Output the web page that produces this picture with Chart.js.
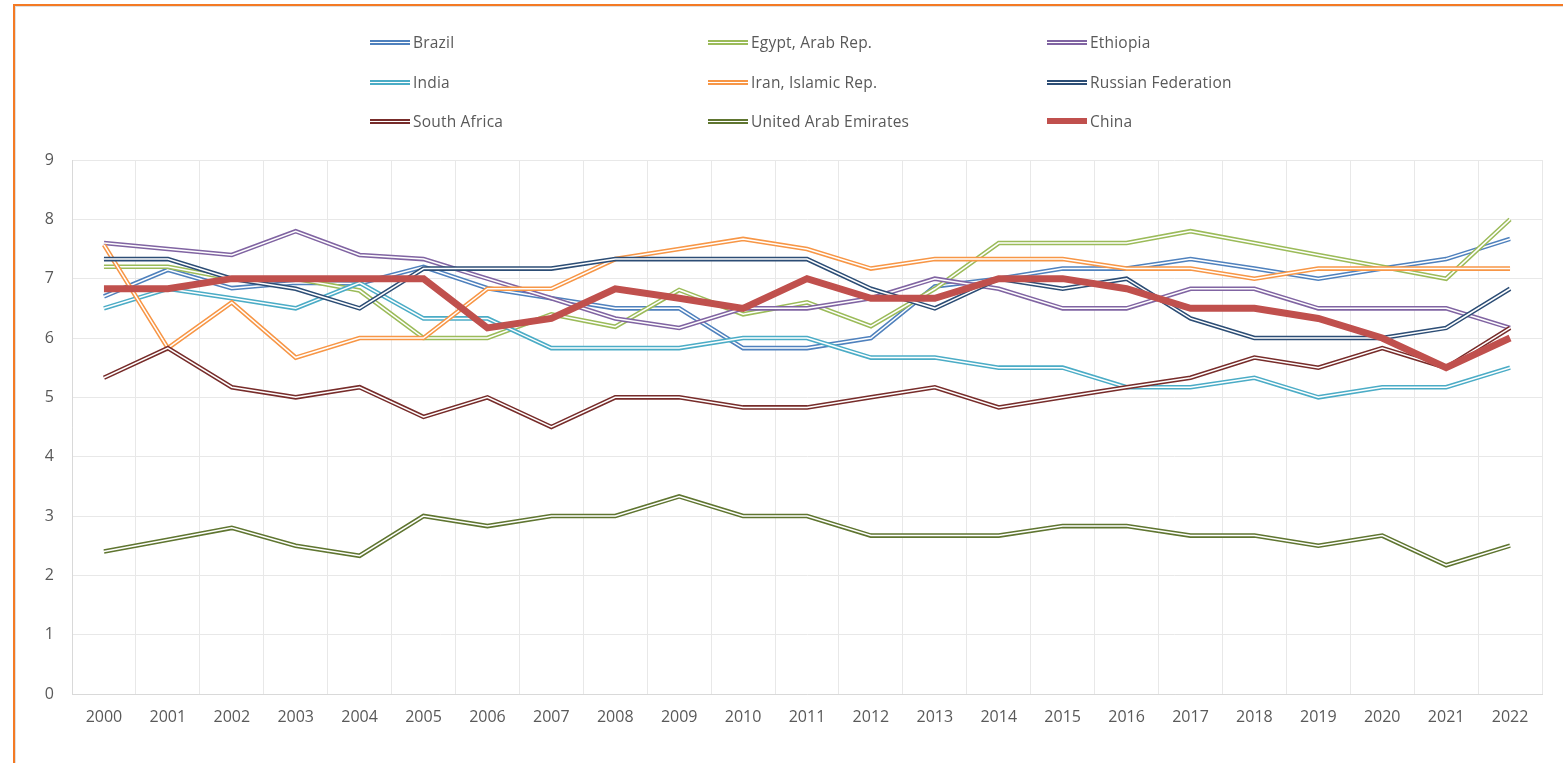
<!DOCTYPE html>
<html>
<head>
<meta charset="utf-8">
<script src="https://cdn.jsdelivr.net/npm/chart.js@4/dist/chart.umd.min.js"></script>
<style>
  html, body { margin: 0; padding: 0; background: #fff; }
  #wrap { position: relative; width: 1563px; height: 763px; overflow: hidden; }
  #frame { position: absolute; left: 13px; top: 4px; width: 1600px; height: 800px;
           border-top: 2px solid #f47a24; border-left: 2px solid #f47a24;
           box-shadow: inset 1px 1px 0 #e0e0e0; pointer-events: none; }
  #legend { position: absolute; left: 0; top: 0; width: 1563px; height: 140px;
            font-family: "Open Sans", sans-serif; font-size: 15.5px; letter-spacing: 0.2px; color: #595959; }
  .item { position: absolute; display: flex; align-items: center; height: 20px; }
  .swatch { width: 40px; box-sizing: border-box; margin-right: 3px; }
  .dbl { height: 5px; border-top: 2px solid; border-bottom: 2px solid; background: #fff; }
  .solid { height: 6px; }
</style>
</head>
<body>
<div id="wrap">
  <canvas id="myChart" width="1563" height="763"></canvas>
  <div id="legend"></div>
  <div id="frame"></div>
</div>
<script>
const years = ['2000','2001','2002','2003','2004','2005','2006','2007','2008','2009','2010','2011',
  '2012','2013','2014','2015','2016','2017','2018','2019','2020','2021','2022'];

const brazil = [6.7, 7.15, 6.84, 6.93, 6.92, 7.2, 6.84, 6.67, 6.5, 6.5, 5.83, 5.83, 6.0, 6.87, 7.0, 7.17, 7.17, 7.33, 7.17, 7.0, 7.17, 7.33, 7.67];
const egypt = [7.2, 7.2, 7.0, 7.0, 6.8, 6.0, 6.0, 6.4, 6.19, 6.81, 6.4, 6.6, 6.2, 6.83, 7.6, 7.6, 7.6, 7.8, 7.6, 7.4, 7.2, 7.0, 8.0];
const ethiopia = [7.6, 7.5, 7.4, 7.8, 7.4, 7.33, 7.0, 6.67, 6.33, 6.17, 6.5, 6.5, 6.67, 7.0, 6.83, 6.5, 6.5, 6.83, 6.83, 6.5, 6.5, 6.5, 6.17];
const india = [6.5, 6.83, 6.67, 6.5, 6.93, 6.33, 6.33, 5.83, 5.83, 5.83, 6.0, 6.0, 5.67, 5.67, 5.5, 5.5, 5.17, 5.17, 5.33, 5.0, 5.17, 5.17, 5.5];
const iran = [7.57, 5.83, 6.6, 5.67, 6.0, 6.0, 6.83, 6.83, 7.33, 7.5, 7.67, 7.5, 7.17, 7.33, 7.33, 7.33, 7.17, 7.17, 7.0, 7.17, 7.17, 7.17, 7.17];
const russia = [7.33, 7.33, 7.0, 6.83, 6.5, 7.17, 7.17, 7.17, 7.33, 7.33, 7.33, 7.33, 6.83, 6.5, 7.0, 6.83, 7.0, 6.33, 6.0, 6.0, 6.0, 6.17, 6.83];
const southAfrica = [5.33, 5.83, 5.17, 5.0, 5.17, 4.67, 5.0, 4.5, 5.0, 5.0, 4.83, 4.83, 5.0, 5.17, 4.83, 5.0, 5.17, 5.33, 5.67, 5.5, 5.83, 5.5, 6.17];
const uae = [2.4, 2.6, 2.8, 2.5, 2.33, 3.0, 2.83, 3.0, 3.0, 3.33, 3.0, 3.0, 2.67, 2.67, 2.67, 2.83, 2.83, 2.67, 2.67, 2.5, 2.67, 2.17, 2.5];
const china = [6.83, 6.83, 7.0, 7.0, 7.0, 7.0, 6.17, 6.33, 6.83, 6.67, 6.5, 7.0, 6.67, 6.67, 7.0, 7.0, 6.83, 6.5, 6.5, 6.33, 6.0, 5.5, 6.0];

const names = ['Brazil', 'Egypt, Arab Rep.', 'Ethiopia', 'India', 'Iran, Islamic Rep.', 'Russian Federation',
  'South Africa', 'United Arab Emirates', 'China'];
const values = [brazil, egypt, ethiopia, india, iran, russia, southAfrica, uae, china];
const colors = ['#4f81bd', '#9bbb59', '#8064a2', '#4bacc6', '#f79646', '#2c4d75', '#772c2a', '#5f7530', '#c0504d'];

// excel style "double" line: white stroke over the coloured one
const doubleLine = {
  id: 'doubleLine',
  afterDatasetDraw(chart, args) {
    const ds = chart.data.datasets[args.index];
    if (!ds.doubleLine) return;
    const pts = args.meta.data;
    const ctx = chart.ctx;
    ctx.save();
    ctx.beginPath();
    pts.forEach((p, i) => i ? ctx.lineTo(p.x, p.y) : ctx.moveTo(p.x, p.y));
    ctx.strokeStyle = '#ffffff';
    ctx.lineWidth = 1.5;
    ctx.lineJoin = 'miter';
    ctx.stroke();
    ctx.restore();
  }
};

const datasets = names.map((name, i) => {
  const isChina = name === 'China';
  return {
    label: name,
    data: values[i],
    borderColor: colors[i],
    backgroundColor: colors[i],
    borderWidth: isChina ? 7 : 4.6,
    pointRadius: 0,
    tension: 0,
    doubleLine: !isChina,
    order: names.length - i
  };
});

// legend in 3 columns
const legend = document.getElementById('legend');
const colX = [370, 708, 1047];
const rowY = [32, 72, 111];
names.forEach((name, i) => {
  const el = document.createElement('div');
  el.className = 'item';
  el.style.left = colX[i % 3] + 'px';
  el.style.top = rowY[Math.floor(i / 3)] + 'px';
  const sw = document.createElement('span');
  if (name === 'China') {
    sw.className = 'swatch solid';
    sw.style.background = colors[i];
  } else {
    sw.className = 'swatch dbl';
    sw.style.borderTopColor = colors[i];
    sw.style.borderBottomColor = colors[i];
  }
  const tx = document.createElement('span');
  tx.textContent = name;
  el.appendChild(sw);
  el.appendChild(tx);
  legend.appendChild(el);
});

const ctx = document.getElementById('myChart');
new Chart(ctx, {
  type: 'line',
  data: { labels: years, datasets: datasets },
  options: {
    responsive: false,
    animation: false,
    layout: { padding: { top: 160, left: 0, right: 21, bottom: 29 } },
    plugins: { legend: { display: false }, tooltip: { enabled: false } },
    scales: {
      x: {
        offset: true,
        grid: { offset: true, color: '#e8e8e8', drawTicks: false },
        border: { color: '#d9d9d9' },
        ticks: { color: '#595959', padding: 14, maxRotation: 0, font: { family: 'Open Sans', size: 16 } },
        afterFit: (s) => { s.height = 40; }
      },
      y: {
        min: 0,
        max: 9,
        grid: { color: '#e8e8e8', drawTicks: false },
        border: { color: '#d9d9d9' },
        ticks: { stepSize: 1, color: '#595959', padding: 18, font: { family: 'Open Sans', size: 16 } },
        afterFit: (s) => { s.width = 72; }
      }
    }
  },
  plugins: [doubleLine]
});
</script>
</body>
</html>
